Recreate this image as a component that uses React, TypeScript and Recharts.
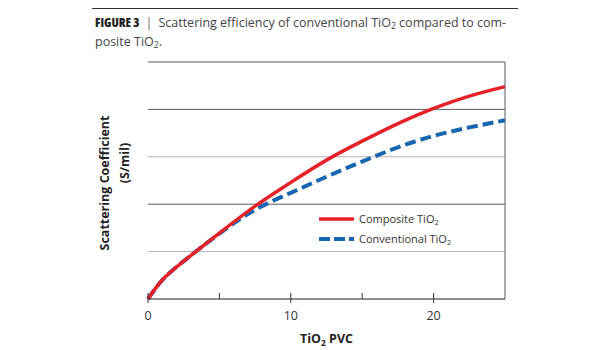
import React from "react";
import { LineChart, Line, XAxis, YAxis, ReferenceLine, Legend, Label } from "recharts";

const pvc = [0, 1, 2.5, 5, 7.5, 10, 12.5, 15, 17.5, 20, 22.5, 25];
const composite = [0, 0.4, 0.8, 1.39, 1.96, 2.46, 2.93, 3.33, 3.7, 4.02, 4.28, 4.48];
const conventional = [0, 0.4, 0.8, 1.38, 1.88, 2.24, 2.58, 2.9, 3.2, 3.44, 3.62, 3.77];
const xTicks = [0, 5, 10, 15, 20];
const xLabels = ["0", "", "10", "", "20"];
const gridValues = [1, 2, 3, 4, 5];
const gridColors = ["#b4b4b4", "#5c5c5c", "#b4b4b4", "#5c5c5c", "#5c5c5c"];

const data = pvc.map((x, i) => ({ x, composite: composite[i], conventional: conventional[i] }));

const RED = "#e4222a";
const BLUE = "#1766b0";
const FONT = "'Open Sans', sans-serif";

const XTick = (props: any) => {
  const { x, y, payload } = props;
  const label = xLabels[xTicks.indexOf(payload.value)] ?? "";
  const major = label !== "";
  return (
    <g>
      <line x1={x} x2={x} y1={y - 6} y2={major ? y + 4 : y} stroke="#333" strokeWidth={1} />
      {major && (
        <text x={x} y={y + 21} textAnchor="middle" fontFamily={FONT} fontSize={12.5} fill="#333">
          {label}
        </text>
      )}
    </g>
  );
};

const LegendContent = () => (
  <svg width={150} height={40} style={{ overflow: "visible" }}>
    <line x1={0} x2={35} y1={8} y2={8} stroke={RED} strokeWidth={3.5} />
    <text x={40} y={12} fontFamily={FONT} fontSize={11} fill="#333">
      Composite TiO<tspan fontSize={7.5} dy={2}>2</tspan>
    </text>
    <line x1={0} x2={35} y1={28} y2={28} stroke={BLUE} strokeWidth={4} strokeDasharray="11 4 11 4 5 4" />
    <text x={40} y={32} fontFamily={FONT} fontSize={11} fill="#333">
      Conventional TiO<tspan fontSize={7.5} dy={2}>2</tspan>
    </text>
  </svg>
);

const Titles = (props: any) => {
  const vb = props.viewBox || {};
  const cx = vb.x + vb.width / 2;
  return (
    <g>
      <text x={cx} y={343} textAnchor="middle" fontFamily={FONT} fontSize={12.5} fontWeight="bold" fill="#222">
        TiO<tspan fontSize={8.5} dy={3}>2</tspan>
        <tspan dy={-3}> PVC</tspan>
      </text>
      <text
        x={109}
        y={183}
        transform="rotate(-90 109 183)"
        textAnchor="middle"
        fontFamily={FONT}
        fontSize={12.5}
        fontWeight="bold"
        fill="#222"
      >
        Scattering Coefficient
      </text>
      <text
        x={129}
        y={163}
        transform="rotate(-90 129 163)"
        textAnchor="middle"
        fontFamily={FONT}
        fontSize={12.5}
        fontWeight="bold"
        fill="#222"
      >
        (S/mil)
      </text>
    </g>
  );
};

export default function App() {
  return (
    <div style={{ position: "absolute", left: 0, top: 0, width: 615, height: 350, background: "#fff" }}>
      <div style={{ position: "absolute", left: 92, top: 8, width: 426, height: 1, background: "#333" }} />
      <div
        style={{
          position: "absolute",
          left: 95,
          top: 15,
          width: 430,
          fontFamily: FONT,
          fontSize: 12.5,
          lineHeight: "16px",
          color: "#444",
        }}
      >
        <span style={{ fontWeight: 800, fontStretch: "condensed", color: "#222" }}>FIGURE 3</span>
        <span style={{ margin: "0 6px", color: "#666" }}>|</span>
        Scattering efficiency of conventional TiO<sub style={{ fontSize: 8.5, verticalAlign: "-2px" }}>2</sub> compared to com-
        <br />
        posite TiO<sub style={{ fontSize: 8.5, verticalAlign: "-2px" }}>2</sub>.
      </div>
      <div style={{ position: "absolute", left: 0, top: 0 }}>
        <LineChart width={615} height={350} data={data} margin={{ top: 62, right: 110, bottom: 21, left: 148 }}>
          {gridValues.map((v, i) => (
            <ReferenceLine key={v} y={v} stroke={gridColors[i]} strokeWidth={1} ifOverflow="visible" />
          ))}
          <ReferenceLine x={25} stroke="#5c5c5c" strokeWidth={1} ifOverflow="visible" />
          <XAxis
            dataKey="x"
            type="number"
            domain={[0, 25]}
            ticks={xTicks}
            interval={0}
            tickSize={0}
            tickMargin={0}
            tickLine={false}
            tick={<XTick />}
            height={30}
            axisLine={{ stroke: "#222", strokeWidth: 1 }}
          >
            <Label content={<Titles />} />
          </XAxis>
          <YAxis
            type="number"
            domain={[0, 5]}
            width={0}
            tick={false}
            tickLine={false}
            axisLine={{ stroke: "#555", strokeWidth: 1 }}
          />
          <Line
            type="natural"
            dataKey="conventional"
            stroke={BLUE}
            strokeWidth={4}
            strokeDasharray="11 5"
            dot={false}
            isAnimationActive={false}
          />
          <Line
            type="natural"
            dataKey="composite"
            stroke={RED}
            strokeWidth={3.5}
            dot={false}
            isAnimationActive={false}
          />
          <Legend
            layout="horizontal"
            verticalAlign="middle"
            align="center"
            content={<LegendContent />}
            wrapperStyle={{ position: "absolute", left: 319, top: 211, width: 150, height: 40 }}
          />
        </LineChart>
      </div>
    </div>
  );
}
